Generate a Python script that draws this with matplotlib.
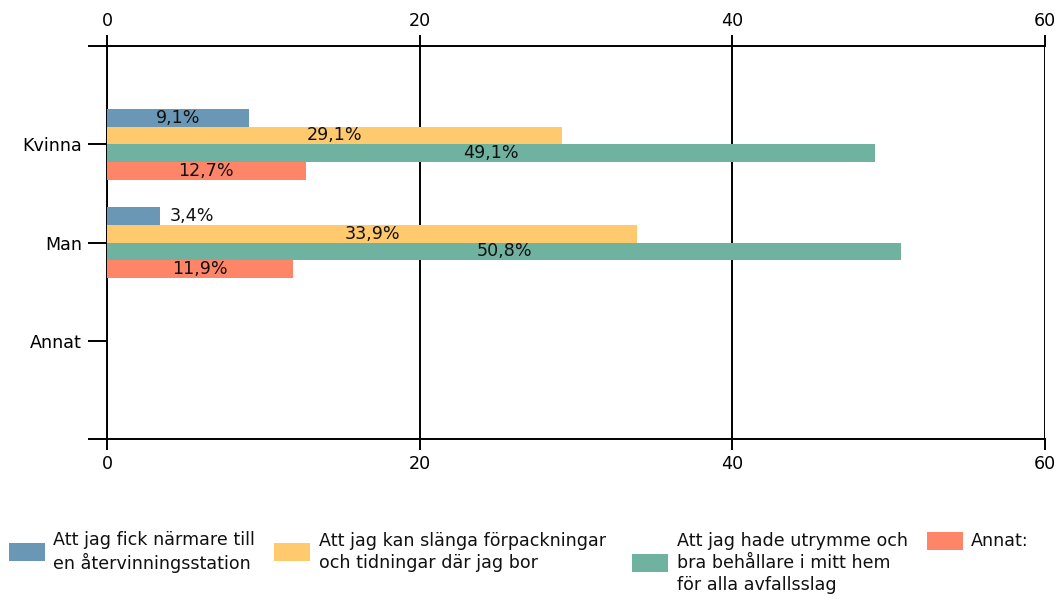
import matplotlib
matplotlib.use("Agg")
import matplotlib.pyplot as plt
from matplotlib.patches import Rectangle
import numpy as np

categories = ["Kvinna", "Man", "Annat"]
series_names = [
    "Att jag fick närmare till\nen återvinningsstation",
    "Att jag kan slänga förpackningar\noch tidningar där jag bor",
    "Att jag hade utrymme och\nbra behållare i mitt hem\nför alla avfallsslag",
    "Annat:",
]
values = [
    [9.1, 3.4, 0.0],
    [29.1, 33.9, 0.0],
    [49.1, 50.8, 0.0],
    [12.7, 11.9, 0.0],
]
colors = ["#6b97b6", "#ffc96e", "#70b2a0", "#ff8569"]
xticks = [0, 20, 40, 60]

plt.rcParams["font.family"] = ["DejaVu Sans"]
FS = 12.6
W, H = 1062, 599

fig = plt.figure(figsize=(W / 100, H / 100), dpi=100)
ax = fig.add_axes([107 / W, 1 - 439 / H, (1045 - 107) / W, (439 - 46) / H])

y = np.arange(len(categories))
h = 0.18
offsets = (np.arange(4) - 1.5) * h
for i, (name, vals, c) in enumerate(zip(series_names, values, colors)):
    ypos = y + offsets[i]
    ax.barh(ypos, vals, height=h, color=c, label=name, zorder=3)
    for yy, v in zip(ypos, vals):
        if v <= 0:
            continue
        txt = f"{v:.1f}%".replace(".", ",")
        if v < 5:
            ax.text(v + 0.6, yy, txt, ha="left", va="center", fontsize=FS, color="#111111", zorder=4)
        else:
            ax.text(v / 2, yy, txt, ha="center", va="center", fontsize=FS, color="#111111", zorder=4)

ax.set_xlim(0, 60)
ax.set_ylim(3, -1)
ax.set_xticks(xticks)
ax.set_xticklabels([str(t) for t in xticks])
ax.set_yticks(y)
ax.set_yticklabels(categories)
ax.set_yticks([-1, 3], minor=True)
ax.xaxis.grid(True, color="black", linewidth=1.4, zorder=1)
ax.tick_params(axis="x", which="both", top=True, labeltop=True, bottom=True, labelbottom=True,
               direction="out", length=8, width=1.4, labelsize=FS, colors="black", pad=3.5)
ax.tick_params(axis="y", which="both", left=True, direction="out", length=14, width=1.4,
               labelsize=FS, colors="black", pad=4)
for s in ax.spines.values():
    s.set_color("black")
    s.set_linewidth(1.4)
ax.spines["right"].set_visible(False)

# legend (manual, top-aligned columns like the reference)
patch_x = [9, 274, 632, 927]
text_x = [53, 319, 677, 971]
for name, c, px, tx in zip(series_names, colors, patch_x, text_x):
    n = name.count("\n") + 1
    cy = 541 + (n - 1) * 11.2
    fig.patches.append(Rectangle((px / W, 1 - (cy + 9) / H), 36 / W, 18 / H,
                                 transform=fig.transFigure, facecolor=c, edgecolor="none"))
    fig.text(tx / W, 1 - cy / H, name, ha="left", va="center", fontsize=FS,
             color="#111111", linespacing=1.28, multialignment="left")

fig.savefig("out.png", dpi=100)
